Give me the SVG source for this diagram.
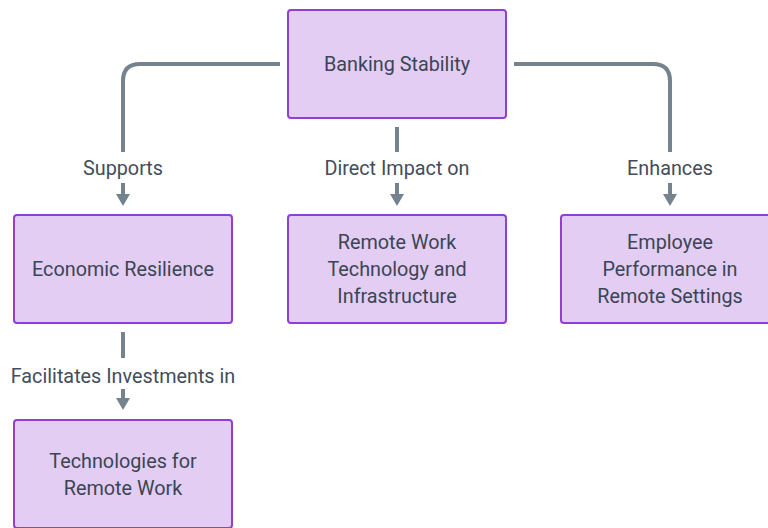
<svg xmlns="http://www.w3.org/2000/svg" width="768" height="528" viewBox="0 0 768 528">
<defs>
<style>
.node rect{fill:#e3cdf3;stroke:#8f3fd6;stroke-width:2}
.node text,.lbl{font-family:"Roboto","Liberation Sans",sans-serif;font-size:19.8px;fill:#3a4556;text-anchor:middle}
.lbl{fill:#434d5b}
.edge{fill:none;stroke:#75838f;stroke-width:4}
.ah{fill:#75838f}
</style>
</defs>
<rect width="768" height="528" fill="#ffffff"/>
<g id="connectors">
<path class="edge" d="M280,64 H140 Q123,64 123,81 V152"/>
<path class="edge" d="M123,183 V196"/>
<path class="ah" d="M116,194 L130,194 L123,206 Z"/>
<text class="lbl" x="123" y="175">Supports</text>
<path class="edge" d="M397,127 V152"/>
<path class="edge" d="M397,183 V196"/>
<path class="ah" d="M390,194 L404,194 L397,206 Z"/>
<text class="lbl" x="397" y="175">Direct Impact on</text>
<path class="edge" d="M514,64 H653 Q670,64 670,81 V152"/>
<path class="edge" d="M670,183 V196"/>
<path class="ah" d="M663,194 L677,194 L670,206 Z"/>
<text class="lbl" x="670" y="175">Enhances</text>
<path class="edge" d="M123,332 V358"/>
<path class="edge" d="M123,389 V400"/>
<path class="ah" d="M116,398 L130,398 L123,410 Z"/>
<text class="lbl" x="123" y="383">Facilitates Investments in</text>
</g>
<g id="banking" class="node"><rect x="288" y="10" width="218" height="108" rx="3"/><text x="397" y="71">Banking Stability</text></g>
<g id="economic" class="node"><rect x="14" y="215" width="218" height="108" rx="3"/><text x="123" y="276">Economic Resilience</text></g>
<g id="remote" class="node"><rect x="288" y="215" width="218" height="108" rx="3"/><text x="397" y="249">Remote Work</text><text x="397" y="276">Technology and</text><text x="397" y="303">Infrastructure</text></g>
<g id="employee" class="node"><rect x="561" y="215" width="218" height="108" rx="3"/><text x="670" y="249">Employee</text><text x="670" y="276">Performance in</text><text x="670" y="303">Remote Settings</text></g>
<g id="technologies" class="node"><rect x="14" y="420" width="218" height="108" rx="3"/><text x="123" y="468">Technologies for</text><text x="123" y="495">Remote Work</text></g>
</svg>
